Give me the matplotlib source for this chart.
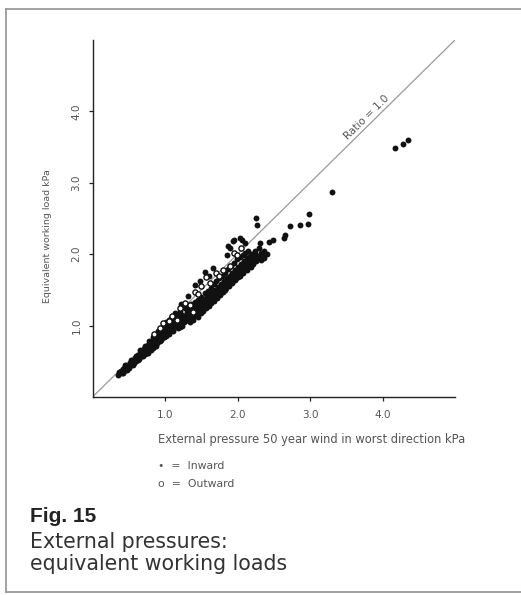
import matplotlib
matplotlib.use("Agg")
import matplotlib.pyplot as plt
from matplotlib.lines import Line2D

# Inward pressures (filled dots): external pressure vs equivalent working load, kPa
inward_x = [
    0.35, 0.36, 0.38, 0.39, 0.40, 0.42, 0.43, 0.44, 0.46, 0.47, 0.48, 0.50, 0.51, 0.52,
    0.54, 0.55, 0.56, 0.58, 0.59, 0.60, 0.62, 0.63, 0.64, 0.66, 0.67, 0.68, 0.70,
    0.71, 0.72, 0.73, 0.74, 0.75, 0.76, 0.77, 0.78, 0.79, 0.80, 0.81, 0.82, 0.83, 0.84,
    0.85, 0.86, 0.87, 0.88, 0.89, 0.90, 0.91, 0.92, 0.93, 0.94, 0.95, 0.96, 0.97, 0.98,
    0.99, 1.00,
    1.01, 1.02, 1.03, 1.04, 1.05, 1.06, 1.07, 1.08, 1.09, 1.10, 1.11, 1.12, 1.13, 1.14,
    1.15, 1.16, 1.17, 1.18, 1.19, 1.20, 1.21, 1.22, 1.23, 1.24, 1.25, 1.26, 1.27, 1.28,
    1.29, 1.30,
    1.32, 1.41, 1.48, 1.22, 1.55, 1.66, 1.60, 1.85, 1.90, 1.95, 2.03, 1.87, 1.94, 2.06,
    2.11,
    1.31, 1.32, 1.33, 1.34, 1.35, 1.36, 1.37, 1.38, 1.39, 1.40, 1.41, 1.42, 1.43, 1.44,
    1.45, 1.46, 1.47, 1.48, 1.49, 1.50, 1.51, 1.52, 1.53, 1.54, 1.55, 1.56, 1.57, 1.58,
    1.59, 1.60,
    1.61, 1.62, 1.63, 1.64, 1.65, 1.66, 1.67, 1.68, 1.69, 1.70, 1.71, 1.72, 1.73, 1.74,
    1.75, 1.76, 1.77, 1.78, 1.79, 1.80, 1.81, 1.82, 1.83, 1.84, 1.85, 1.86, 1.87, 1.88,
    1.89, 1.90, 1.91, 1.92, 1.93, 1.94, 1.95, 1.96, 1.97, 1.98, 1.99, 2.00,
    2.01, 2.02, 2.03, 2.04, 2.05, 2.06, 2.07, 2.08, 2.09, 2.10, 2.11, 2.12, 2.13, 2.14,
    2.15, 2.16, 2.17, 2.18, 2.20, 2.22, 2.24, 2.26, 2.28, 2.30, 2.31, 2.32, 2.34, 2.36,
    2.37,
    0.42, 0.45, 0.50, 0.53, 0.57, 0.60, 0.63, 0.66, 0.69, 0.72, 0.75, 0.78, 0.81, 0.84,
    0.87, 0.90, 0.93, 0.96, 0.99, 1.02, 1.05, 1.08, 1.11, 1.14, 1.17, 1.20, 1.24, 1.28,
    1.33, 1.38, 1.43, 1.48, 1.53, 1.58, 1.63, 1.68, 1.73, 1.78, 1.83, 1.88, 1.93, 1.98,
    2.03, 2.08, 2.13, 2.18, 2.22, 2.26, 2.30, 2.33, 2.40,
    2.25, 2.27, 2.43, 2.49, 2.64, 2.66, 2.72, 2.86, 2.97, 2.99, 3.30, 4.17, 4.28, 4.35,
]
inward_y = [
    0.31, 0.35, 0.33, 0.37, 0.34, 0.39, 0.36, 0.41, 0.40, 0.43, 0.38, 0.45, 0.42, 0.48,
    0.46, 0.50, 0.45, 0.52, 0.55, 0.50, 0.56, 0.59, 0.53, 0.60, 0.63, 0.57, 0.64,
    0.67, 0.60, 0.70, 0.64, 0.68, 0.73, 0.62, 0.70, 0.76, 0.66, 0.73, 0.79, 0.69, 0.76,
    0.82, 0.72, 0.79, 0.86, 0.75, 0.82, 0.89, 0.78, 0.85, 0.92, 0.80, 0.88, 0.95, 0.84,
    0.91, 0.98,
    0.86, 0.94, 1.02, 0.89, 0.97, 1.08, 0.92, 1.00, 1.05, 0.95, 1.03, 1.12, 0.98, 1.06,
    1.15, 1.01, 1.09, 0.96, 1.13, 1.04, 1.20, 1.08, 1.00, 1.15, 1.11, 1.05, 1.24, 1.14,
    1.08, 1.19,
    1.42, 1.57, 1.62, 1.30, 1.75, 1.80, 1.70, 1.99, 2.08, 2.20, 2.22, 2.11, 2.19, 2.20,
    2.15,
    1.10, 1.25, 1.16, 1.05, 1.21, 1.30, 1.13, 1.24, 1.08, 1.19, 1.33, 1.15, 1.27, 1.20,
    1.36, 1.12, 1.24, 1.31, 1.18, 1.40, 1.27, 1.21, 1.35, 1.29, 1.45, 1.24, 1.38, 1.32,
    1.48, 1.28,
    1.42, 1.36, 1.52, 1.31, 1.46, 1.40, 1.58, 1.35, 1.50, 1.44, 1.62, 1.39, 1.54, 1.48,
    1.66, 1.43, 1.58, 1.51, 1.70, 1.47, 1.62, 1.55, 1.74, 1.52, 1.66, 1.59, 1.79, 1.55,
    1.70, 1.63, 1.84, 1.60, 1.74, 1.67, 1.88, 1.64, 1.78, 1.71, 1.93, 1.68,
    1.82, 1.75, 1.96, 1.72, 1.86, 1.79, 1.99, 1.76, 1.90, 1.83, 2.02, 1.80, 1.94, 1.87,
    2.05, 1.84, 1.97, 1.90, 2.00, 1.93, 2.05, 1.99, 1.96, 2.09, 2.16, 2.02, 2.00, 1.94,
    2.04,
    0.33, 0.45, 0.40, 0.52, 0.48, 0.58, 0.52, 0.66, 0.58, 0.72, 0.62, 0.78, 0.68, 0.84,
    0.72, 0.92, 0.78, 0.96, 0.84, 1.05, 0.88, 1.10, 0.93, 1.17, 0.98, 0.98, 1.03, 1.06,
    1.09, 1.12, 1.17, 1.22, 1.26, 1.30, 1.34, 1.40, 1.44, 1.47, 1.50, 1.58, 1.63, 1.66,
    1.70, 1.74, 1.78, 1.82, 1.86, 1.90, 1.95, 1.92, 2.00,
    2.51, 2.41, 2.17, 2.20, 2.23, 2.27, 2.39, 2.41, 2.42, 2.57, 2.87, 3.49, 3.55, 3.60,
]

# Outward pressures (open circles)
outward_x = [0.85, 0.93, 0.97, 1.05, 1.10, 1.16, 1.20, 1.27, 1.34, 1.39, 1.41, 1.45,
             1.50, 1.57, 1.62, 1.70, 1.75, 1.80, 1.89, 1.95, 1.99, 2.05]
outward_y = [0.88, 0.97, 1.04, 1.07, 1.14, 1.08, 1.25, 1.32, 1.29, 1.19, 1.47, 1.44,
             1.55, 1.68, 1.60, 1.74, 1.70, 1.78, 1.83, 2.02, 1.99, 2.08]

ticks = [1.0, 2.0, 3.0, 4.0]
tick_labels = ["1.0", "2.0", "3.0", "4.0"]
ratio_line = [0.0, 5.0]

W, H = 521, 595
fig = plt.figure(figsize=(W / 100, H / 100), dpi=100)
fig.patch.set_facecolor("white")

TXT = "#555555"
plt.rcParams["font.family"] = ["DejaVu Sans"]

ax = fig.add_axes([92.5 / W, 1 - 397 / H, (455 - 92.5) / W, (397 - 40) / H])
ax.set_xlim(0, 5)
ax.set_ylim(0, 5)
for s in ("top", "right"):
    ax.spines[s].set_visible(False)
for s in ("left", "bottom"):
    ax.spines[s].set_linewidth(1.0)
    ax.spines[s].set_color("#222222")

# ratio = 1.0 reference line
ax.plot(ratio_line, ratio_line, color="#9a9a9a", lw=0.9, zorder=1)
ax.text(3.78, 3.92, "Ratio = 1.0", rotation=44.6, rotation_mode="anchor",
        ha="center", va="center", fontsize=7.5, color=TXT)

ax.scatter(inward_x, inward_y, s=18, color="#111111", linewidths=0, zorder=3)
ax.scatter(outward_x, outward_y, s=14, facecolor="white", edgecolor="#111111",
           linewidths=1.0, zorder=4)

ax.set_xticks(ticks)
ax.set_xticklabels(tick_labels)
ax.set_yticks(ticks)
ax.set_yticklabels(tick_labels, rotation=90, va="center")
ax.tick_params(axis="both", length=3, width=0.9, color="#222222",
               labelsize=7.5, labelcolor=TXT)
ax.tick_params(axis="x", pad=6)
ax.tick_params(axis="y", pad=5)

ax.set_ylabel("Equivalent working load kPa", fontsize=6.8, color=TXT)
ax.yaxis.set_label_coords(-0.112, 0.45)

fig.text(158 / W, 1 - 439 / H, "External pressure 50 year wind in worst direction kPa",
         fontsize=8.3, color=TXT, ha="left", va="center")
fig.text(158 / W, 1 - 466 / H, "\u2022  =  Inward", fontsize=7.8, color=TXT,
         ha="left", va="center")
fig.text(158 / W, 1 - 484 / H, "o  =  Outward", fontsize=7.8, color=TXT,
         ha="left", va="center")

fig.text(30 / W, 1 - 516 / H, "Fig. 15", fontsize=15, fontweight="bold",
         family="Liberation Sans", color="#222222", ha="left", va="center")
fig.text(30 / W, 1 - 542 / H, "External pressures:", fontsize=14.8, color="#333333",
         ha="left", va="center")
fig.text(30 / W, 1 - 564 / H, "equivalent working loads", fontsize=14.8, color="#333333",
         ha="left", va="center")

# panel border
bc = "#9a9a9a"
fig.add_artist(Line2D([6 / W, 1.0], [1 - 9 / H, 1 - 9 / H], color=bc, lw=1.3))
fig.add_artist(Line2D([6 / W, 6 / W], [1 - 9 / H, 1 - 592 / H], color=bc, lw=1.3))
fig.add_artist(Line2D([6 / W, 1.0], [1 - 592 / H, 1 - 592 / H], color=bc, lw=1.3))

fig.savefig("out.png", dpi=100, facecolor="white")
